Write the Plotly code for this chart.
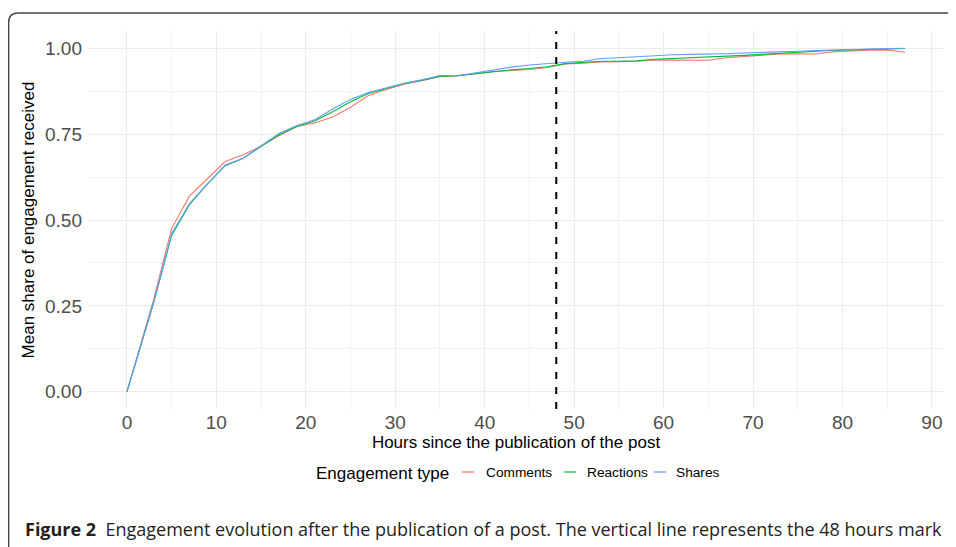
import plotly.graph_objects as go

hours = [0, 3, 5, 7, 9, 11, 13, 15, 17, 19, 21, 23, 25, 27, 29, 31, 33, 35, 37, 39, 41, 43,
         45, 47, 49, 51, 53, 55, 57, 59, 61, 63, 65, 67, 69, 71, 73, 75, 77, 79, 81, 83, 85, 87]

comments = [0, 0.27, 0.475, 0.57, 0.62, 0.67, 0.69, 0.715, 0.745, 0.772, 0.782, 0.800, 0.828,
            0.862, 0.880, 0.895, 0.905, 0.918, 0.920, 0.927, 0.932, 0.935, 0.938, 0.944, 0.954,
            0.956, 0.960, 0.961, 0.962, 0.966, 0.965, 0.965, 0.965, 0.972, 0.976, 0.979, 0.983,
            0.984, 0.983, 0.990, 0.993, 0.994, 0.995, 0.988]

reactions = [0, 0.26, 0.455, 0.545, 0.605, 0.658, 0.68, 0.715, 0.748, 0.772, 0.788, 0.815, 0.844,
             0.868, 0.883, 0.897, 0.907, 0.918, 0.920, 0.926, 0.933, 0.937, 0.941, 0.946, 0.955,
             0.958, 0.962, 0.962, 0.963, 0.968, 0.970, 0.971, 0.973, 0.977, 0.979, 0.982, 0.985,
             0.989, 0.991, 0.994, 0.995, 0.996, 0.997, 0.999]

shares = [0, 0.26, 0.46, 0.548, 0.605, 0.66, 0.68, 0.715, 0.752, 0.775, 0.792, 0.823, 0.851,
          0.871, 0.885, 0.898, 0.908, 0.920, 0.920, 0.929, 0.937, 0.945, 0.951, 0.956, 0.959,
          0.962, 0.970, 0.972, 0.975, 0.979, 0.981, 0.982, 0.982, 0.984, 0.986, 0.987, 0.988,
          0.991, 0.993, 0.995, 0.997, 0.998, 0.999, 1.0]

series_names = ["Comments", "Reactions", "Shares"]
series_colors = ["#F8766D", "#00BA38", "#619CFF"]
x_ticks = [0, 10, 20, 30, 40, 50, 60, 70, 80, 90]
y_ticks = [0, 0.25, 0.5, 0.75, 1.0]
y_tick_labels = ["0.00", "0.25", "0.50", "0.75", "1.00"]
cutoff_hour = 48
legend_title = "Engagement type"
caption_text = ("<b>Figure 2</b>  Engagement evolution after the publication of a post. "
                "The vertical line represents the 48 hours mark")

# Figure is placed by the page 8px from the top-left corner (body margin),
# so it is sized 948x539 and page coordinates are converted below.
FW, FH, OFF = 948, 539, 8
L, R, T, B = 80, 12, 23, 138
W, H = FW - L - R, FH - T - B


def px(page_x):
    return (page_x - OFF - L) / W


def py(page_y):
    return (FH - B - (page_y - OFF)) / H


fig = go.Figure()
for name, vals, col in zip(series_names, [comments, reactions, shares], series_colors):
    fig.add_trace(go.Scatter(x=hours, y=vals, mode="lines", name=name, showlegend=False,
                             line=dict(color=col, width=1.1)))

fig.add_vline(x=cutoff_hour, line=dict(color="black", width=2, dash="7px,8px"))

# frame of the journal figure (rounded top-left corner)
border = (f"M {px(970)},{py(13)} L {px(18)},{py(13)} Q {px(8.6)},{py(13)} {px(8.6)},{py(23)} "
          f"L {px(8.6)},{py(560)}")
fig.add_shape(type="path", path=border, xref="paper", yref="paper",
              line=dict(color="#444444", width=1.5), layer="below")

# legend (ggplot style short keys)
fig.add_annotation(text=legend_title, xref="paper", yref="paper", x=px(314), y=py(473),
                   xanchor="left", yanchor="middle", showarrow=False,
                   font=dict(family="Liberation Sans, Arial", size=17, color="black"))
key_starts = [462, 564, 654]
text_starts = [484, 585, 674]
for name, col, ks, ts in zip(series_names, series_colors, key_starts, text_starts):
    fig.add_shape(type="line", xref="paper", yref="paper", x0=px(ks), x1=px(ks + 12),
                  y0=py(472), y1=py(472), line=dict(color=col, width=1.2))
    fig.add_annotation(text=name, xref="paper", yref="paper", x=px(ts), y=py(472),
                       xanchor="left", yanchor="middle", showarrow=False,
                       font=dict(family="Liberation Sans, Arial", size=13.7, color="black"))

fig.add_annotation(text=caption_text, xref="paper", yref="paper", x=px(23), y=py(529),
                   xanchor="left", yanchor="middle", showarrow=False,
                   font=dict(family="Open Sans", size=18, color="#231f20"))

fig.update_layout(
    width=FW, height=FH,
    margin=dict(l=L, r=R, t=T, b=B, autoexpand=False),
    paper_bgcolor="white", plot_bgcolor="white",
    font=dict(family="Liberation Sans, Arial", color="black"),
    showlegend=False,
    xaxis=dict(range=[-4.35, 91.35], tickvals=x_ticks, ticktext=[str(v) for v in x_ticks],
               showline=False, zeroline=False, ticks="",
               gridcolor="#EBEBEB", gridwidth=1.1,
               minor=dict(dtick=5, showgrid=True, gridcolor="#F2F2F2", gridwidth=0.8),
               tickfont=dict(size=19, color="#4D4D4D"),
               title=dict(text="Hours since the publication of the post",
                          font=dict(size=17, color="black"), standoff=2)),
    yaxis=dict(range=[-0.05, 1.05], tickvals=y_ticks, ticktext=y_tick_labels,
               showline=False, zeroline=False, ticks="", ticklabelstandoff=5,
               gridcolor="#EBEBEB", gridwidth=1.1,
               minor=dict(dtick=0.125, showgrid=True, gridcolor="#F2F2F2", gridwidth=0.8),
               tickfont=dict(size=19, color="#4D4D4D"),
               title=dict(text="Mean share of engagement received",
                          font=dict(size=17, color="black"), standoff=6)),
)

fig.write_html("out.html")
